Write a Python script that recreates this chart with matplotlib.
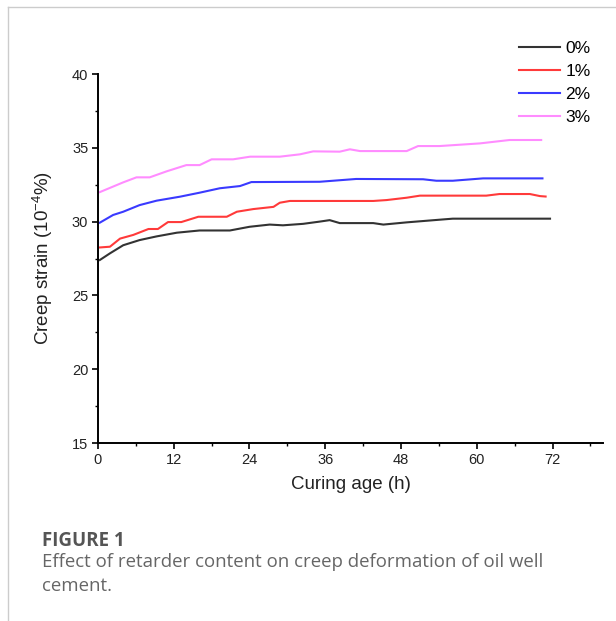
import numpy as np
import matplotlib.pyplot as plt
from matplotlib.lines import Line2D
from matplotlib.ticker import MultipleLocator

# curing age (h) and creep strain (10^-4 %)
t0 = [0.3, 1.9, 4.0, 6.6, 9.3, 12.5, 16.1, 20.9, 24.0, 27.2, 29.3, 32.5, 35.1, 36.7, 38.3,
      43.6, 45.2, 48.9, 54.7, 56.2, 71.6]
s0 = [27.4, 27.85, 28.4, 28.75, 29.0, 29.25, 29.4, 29.4, 29.65, 29.8, 29.75, 29.85, 30.0, 30.1, 29.9,
      29.9, 29.8, 29.95, 30.15, 30.2, 30.2]

t1 = [0.3, 1.9, 3.5, 5.6, 8.0, 9.5, 11.1, 13.2, 15.9, 20.4, 22.0, 24.6, 27.8, 28.8, 30.4,
      43.6, 45.7, 48.9, 51.0, 61.5, 63.6, 68.4, 70.0, 70.9]
s1 = [28.25, 28.3, 28.85, 29.1, 29.5, 29.5, 29.97, 29.97, 30.33, 30.33, 30.67, 30.85, 31.0, 31.28, 31.4,
      31.4, 31.46, 31.62, 31.76, 31.76, 31.87, 31.87, 31.73, 31.7]

t2 = [0.3, 2.4, 4.0, 6.6, 9.3, 13.0, 16.1, 19.3, 22.5, 24.3, 35.1, 40.9, 51.5, 53.6, 56.2, 61.0, 70.4]
s2 = [29.93, 30.45, 30.67, 31.12, 31.42, 31.69, 31.96, 32.26, 32.41, 32.68, 32.7, 32.89, 32.87, 32.77,
      32.77, 32.93, 32.93]

t3 = [0.3, 4.0, 6.1, 8.2, 10.9, 14.0, 16.1, 18.0, 21.4, 24.1, 28.8, 32.0, 34.1, 38.3, 39.9, 41.5,
      48.9, 50.7, 54.1, 60.5, 65.2, 70.2]
s3 = [32.0, 32.66, 33.0, 33.0, 33.41, 33.83, 33.83, 34.22, 34.22, 34.4, 34.4, 34.56, 34.76, 34.74, 34.9,
      34.78, 34.78, 35.12, 35.12, 35.3, 35.53, 35.53]

labels = ['0%', '1%', '2%', '3%']
colors = ['#333333', '#ff3a3a', '#3a3aff', '#ff8cff']

plt.rcParams['font.family'] = ['Liberation Sans', 'DejaVu Sans']
plt.rcParams['mathtext.fontset'] = 'custom'
plt.rcParams['mathtext.rm'] = 'Liberation Sans'

fig = plt.figure(figsize=(6.16, 6.21), dpi=100)
ax = fig.add_axes([0.159, 0.2866, 0.820, 0.5942])

for t, s, lab, c in zip([t0, t1, t2, t3], [s0, s1, s2, s3], labels, colors):
    ax.plot(t, s, color=c, lw=1.5, label=lab)

ax.set_xlim(0, 80)
ax.set_ylim(15, 40)
ax.xaxis.set_major_locator(MultipleLocator(12))
ax.xaxis.set_minor_locator(MultipleLocator(6))
ax.yaxis.set_major_locator(MultipleLocator(5))
ax.yaxis.set_minor_locator(MultipleLocator(2.5))
ax.set_xticks([0, 12, 24, 36, 48, 60, 72])
ax.spines['top'].set_visible(False)
ax.spines['right'].set_visible(False)
for sp in ['left', 'bottom']:
    ax.spines[sp].set_linewidth(1.4)
ax.tick_params(which='major', direction='out', length=4, width=1.2, labelsize=10.5, pad=3,
               labelcolor='#222222')
ax.tick_params(which='minor', direction='out', length=2.5, width=1.0)
ax.set_xlabel('Curing age (h)', fontsize=13.5, labelpad=7, color='#222222')
ax.set_ylabel('Creep strain (10$^{-4}$%)', fontsize=13.5, labelpad=12, color='#222222')

fig.legend(loc='upper left', bbox_to_anchor=(0.832, 0.945), frameon=False, fontsize=12.5,
           handlelength=2.35, handletextpad=0.3, labelspacing=0.45, borderaxespad=0)

# card frame (top and left edges)
fig.add_artist(Line2D([8 / 616, 1], [1 - 7 / 621, 1 - 7 / 621], color='#cccccc', lw=1,
                      transform=fig.transFigure))
fig.add_artist(Line2D([8 / 616, 8 / 616], [0, 1 - 7 / 621], color='#cccccc', lw=1,
                      transform=fig.transFigure))

fig.text(42 / 616, 1 - 546 / 621, 'FIGURE 1', fontsize=13.5, fontweight='bold', color='#555555',
         family='Open Sans', va='baseline')
fig.text(42 / 616, 1 - 567 / 621, 'Effect of retarder content on creep deformation of oil well',
         fontsize=13.4, color='#666666', family='Open Sans', va='baseline')
fig.text(42 / 616, 1 - 591 / 621, 'cement.', fontsize=13.4, color='#666666', family='Open Sans',
         va='baseline')

fig.savefig('out.png', dpi=100)
